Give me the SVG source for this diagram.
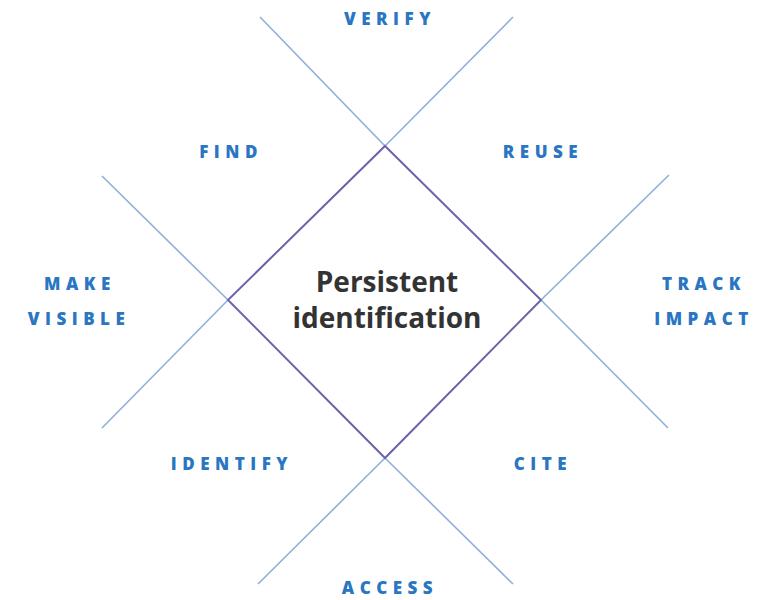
<svg xmlns="http://www.w3.org/2000/svg" width="759" height="600" viewBox="0 0 759 600">
<style>
.ext{stroke:#8db0da;stroke-width:1.6;fill:none}
.dia{stroke:#6d62ab;stroke-width:2;fill:none}
.lbl{font-family:"Open Sans","Liberation Sans",sans-serif;font-weight:800;font-size:17px;fill:#2a76c2;letter-spacing:5.5px;text-anchor:middle}
.ctr{font-family:"Open Sans","Noto Sans",sans-serif;font-weight:bold;font-size:28px;fill:#333333;text-anchor:middle}
</style>
<rect width="759" height="600" fill="#ffffff"/>
<g id="connectors">
<line class="ext" x1="260" y1="17" x2="385" y2="146"/>
<line class="ext" x1="541" y1="300" x2="668" y2="428"/>
<line class="ext" x1="513" y1="17" x2="385" y2="146"/>
<line class="ext" x1="228" y1="300" x2="102" y2="428"/>
<line class="ext" x1="102" y1="176" x2="228" y2="300"/>
<line class="ext" x1="385" y1="458" x2="513" y2="584"/>
<line class="ext" x1="669" y1="175" x2="541" y2="300"/>
<line class="ext" x1="385" y1="458" x2="258" y2="584"/>
</g>
<g id="center">
<polygon class="dia" points="385,146 541,300 385,458 228,300"/>
<text class="ctr" x="387" y="292">Persistent</text>
<text class="ctr" x="387" y="328">identification</text>
</g>
<g id="verify"><text class="lbl" x="390" y="25">VERIFY</text></g>
<g id="find"><text class="lbl" x="231" y="158">FIND</text></g>
<g id="reuse"><text class="lbl" x="543" y="158">REUSE</text></g>
<g id="make-visible"><text class="lbl" x="80" y="290">MAKE</text><text class="lbl" x="79" y="325">VISIBLE</text></g>
<g id="track-impact"><text class="lbl" x="704" y="290">TRACK</text><text class="lbl" x="704" y="325">IMPACT</text></g>
<g id="identify"><text class="lbl" x="232" y="470">IDENTIFY</text></g>
<g id="cite"><text class="lbl" x="543" y="470">CITE</text></g>
<g id="access"><text class="lbl" x="390" y="594">ACCESS</text></g>
</svg>
